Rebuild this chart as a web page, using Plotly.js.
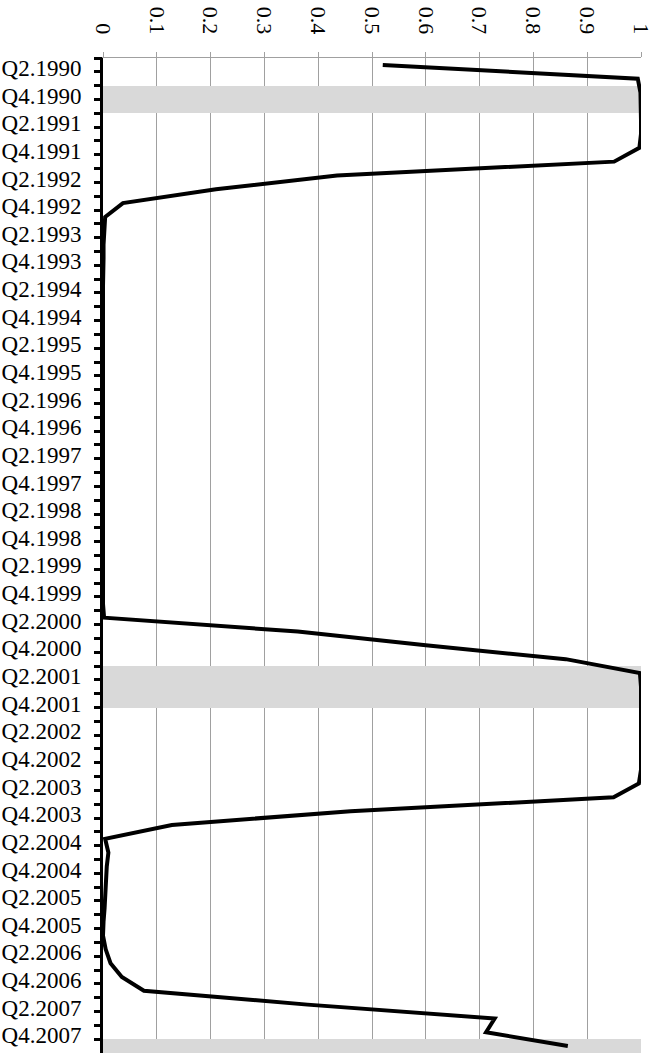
<!DOCTYPE html>
<html>
<head>
<meta charset="utf-8">
<script src="https://cdn.plot.ly/plotly-3.0.1.min.js"></script>
<style>html,body{margin:0;padding:0;background:#fff;}#chart{width:657px;height:1053px;}</style>
</head>
<body>
<div id="chart"></div>
<script>
// Quarters (categories), top to bottom
const quarters = [
  "Q2.1990","Q3.1990","Q4.1990","Q1.1991","Q2.1991","Q3.1991","Q4.1991","Q1.1992",
  "Q2.1992","Q3.1992","Q4.1992","Q1.1993","Q2.1993","Q3.1993","Q4.1993","Q1.1994",
  "Q2.1994","Q3.1994","Q4.1994","Q1.1995","Q2.1995","Q3.1995","Q4.1995","Q1.1996",
  "Q2.1996","Q3.1996","Q4.1996","Q1.1997","Q2.1997","Q3.1997","Q4.1997","Q1.1998",
  "Q2.1998","Q3.1998","Q4.1998","Q1.1999","Q2.1999","Q3.1999","Q4.1999","Q1.2000",
  "Q2.2000","Q3.2000","Q4.2000","Q1.2001","Q2.2001","Q3.2001","Q4.2001","Q1.2002",
  "Q2.2002","Q3.2002","Q4.2002","Q1.2003","Q2.2003","Q3.2003","Q4.2003","Q1.2004",
  "Q2.2004","Q3.2004","Q4.2004","Q1.2005","Q2.2005","Q3.2005","Q4.2005","Q1.2006",
  "Q2.2006","Q3.2006","Q4.2006","Q1.2007","Q2.2007","Q3.2007","Q4.2007","Q1.2008"
];

// Probability series
const probability = [
  0.52, 0.994, 0.999, 1.0, 1.0, 1.0, 0.997, 0.95,
  0.435, 0.21, 0.037, 0.004, 0.002, 0.001, 0.001, 0.0,
  0.0, 0.0, 0.0, 0.0, 0.0, 0.0, 0.0, 0.0,
  0.0, 0.0, 0.0, 0.0, 0.0, 0.0, 0.0, 0.0,
  0.0, 0.0, 0.0, 0.0, 0.0, 0.0, 0.0, 0.0,
  0.002, 0.362, 0.60, 0.86, 0.998, 1.0, 1.0, 1.0,
  1.0, 1.0, 1.0, 1.0, 0.996, 0.949, 0.46, 0.128,
  0.004, 0.01, 0.007, 0.006, 0.005, 0.003, 0.001, 0.0,
  0.005, 0.014, 0.035, 0.076, 0.38, 0.728, 0.712, 0.864
];

// Shaded (recession) quarters
const recessionQuarters = ["Q4.1990","Q1.1991","Q2.2001","Q3.2001","Q4.2001","Q1.2008"];

// Axis tick labels
const labelQuarters = quarters.filter((q, i) => i % 2 === 0);
const xTickVals = [0, 0.1, 0.2, 0.3, 0.4, 0.5, 0.6, 0.7, 0.8, 0.9, 1];
const xTickText = ["0", "0.1", "0.2", "0.3", "0.4", "0.5", "0.6", "0.7", "0.8", "0.9", "1"];

const serif = "Liberation Serif, Times New Roman, serif";
const yRange = [quarters.length - 0.5, -0.5];
const gridGray = "#a0a0a0";

const shade = {
  type: "bar",
  orientation: "h",
  y: recessionQuarters,
  x: recessionQuarters.map(() => 1),
  width: 1,
  marker: {color: "#d9d9d9", line: {width: 0}},
  xaxis: "x",
  yaxis: "y",
  hoverinfo: "skip",
  showlegend: false
};

const line = {
  type: "scatter",
  mode: "lines",
  y: quarters,
  x: probability,
  line: {color: "#000000", width: 4},
  xaxis: "x",
  yaxis: "y2",
  hoverinfo: "skip",
  showlegend: false,
  cliponaxis: false
};

const layout = {
  width: 657,
  height: 1053,
  margin: {l: 103, r: 16, t: 58, b: 0, pad: 0},
  paper_bgcolor: "#ffffff",
  plot_bgcolor: "#ffffff",
  font: {family: serif, size: 22, color: "#000000"},
  showlegend: false,
  bargap: 0,
  xaxis: {
    side: "top",
    range: [0, 1],
    tickmode: "array",
    tickvals: xTickVals,
    ticktext: xTickText,
    tickangle: 90,
    ticks: "outside",
    ticklen: 5,
    tickwidth: 1,
    tickcolor: gridGray,
    showline: true,
    linecolor: gridGray,
    linewidth: 1,
    showgrid: true,
    gridcolor: gridGray,
    gridwidth: 1,
    zeroline: false,
    ticklabelstandoff: 10,
    tickfont: {family: serif, size: 22, color: "#000000"}
  },
  yaxis: {
    type: "category",
    categoryorder: "array",
    categoryarray: quarters,
    range: yRange,
    tickmode: "array",
    tickvals: labelQuarters,
    ticktext: labelQuarters,
    ticks: "",
    showline: true,
    linecolor: "#000000",
    linewidth: 3,
    showgrid: false,
    zeroline: false,
    ticklabelstandoff: 14,
    ticklabelshift: -3,
    tickfont: {family: serif, size: 23, color: "#000000"},
    fixedrange: true
  },
  yaxis2: {
    type: "category",
    categoryorder: "array",
    categoryarray: quarters,
    overlaying: "y",
    side: "left",
    anchor: "x",
    range: yRange,
    tickson: "boundaries",
    dtick: 1,
    ticks: "outside",
    ticklen: 8,
    tickwidth: 3,
    tickcolor: "#000000",
    showticklabels: false,
    showline: false,
    showgrid: false,
    zeroline: false,
    fixedrange: true
  }
};

Plotly.newPlot("chart", [shade, line], layout, {staticPlot: true, displayModeBar: false});
</script>
</body>
</html>
